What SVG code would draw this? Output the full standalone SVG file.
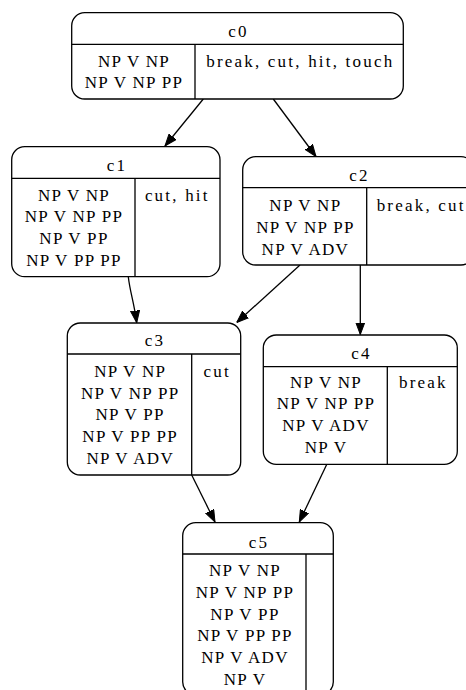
<svg xmlns="http://www.w3.org/2000/svg" width="466" height="690" viewBox="0 0 466 690">
<style>
.box{fill:#fff;stroke:#000;stroke-width:1.3}
.ln{stroke:#000;stroke-width:1.3;fill:none}
.t{font-family:"Liberation Serif","Times New Roman",serif;font-size:17px;fill:#000;text-anchor:middle}
.u{letter-spacing:1.3px}
.l{letter-spacing:2.2px}
.e{stroke:#000;stroke-width:1.3;fill:none;marker-end:url(#arr)}
</style>
<defs>
<marker id="arr" viewBox="0 0 12 10" refX="12" refY="5" markerWidth="12" markerHeight="10" orient="auto" markerUnits="userSpaceOnUse">
<path d="M0,0.5 L12,5 L0,9.5 z" fill="#000" stroke="#000" stroke-width="1"/>
</marker>
</defs>
<rect width="466" height="690" fill="#fff"/>
<g id="edges">
<path class="e" d="M203.3,99 L165,146"/>
<path class="e" d="M273.3,99 L316,156.5"/>
<path class="e" d="M128.3,276.7 C130,292 134,302 136.7,322.7"/>
<path class="e" d="M300,265 L236.7,322.5"/>
<path class="e" d="M360.3,265 L360.3,334.5"/>
<path class="e" d="M191.7,475 L215,522"/>
<path class="e" d="M326.7,464.5 L299.3,522"/>
</g>
<g id="c0">
<rect class="box" x="71.7" y="12.7" width="331.6" height="86.3" rx="13"/>
<path class="ln" d="M71.7,44.3 H403.3 M195,44.3 V99"/>
<text class="t l" x="238.6" y="37">c0</text>
<text class="t u" x="134" y="66.5">NP V NP</text>
<text class="t u" x="134" y="88.2">NP V NP PP</text>
<text class="t l" x="300.3" y="66.5">break, cut, hit, touch</text>
</g>
<g id="c1">
<rect class="box" x="11.7" y="146.7" width="208.3" height="130" rx="13"/>
<path class="ln" d="M11.7,178.3 H220 M135,178.3 V276.7"/>
<text class="t l" x="116.9" y="170.5">c1</text>
<text class="t u" x="74" y="200.6">NP V NP</text>
<text class="t u" x="74" y="222.3">NP V NP PP</text>
<text class="t u" x="74" y="244">NP V PP</text>
<text class="t u" x="74" y="265.7">NP V PP PP</text>
<text class="t l" x="177.3" y="200.6">cut, hit</text>
</g>
<g id="c2">
<rect class="box" x="242.7" y="156.7" width="231.3" height="108.3" rx="13"/>
<path class="ln" d="M242.7,187.7 H474 M366.7,187.7 V265"/>
<text class="t l" x="359.4" y="180.5">c2</text>
<text class="t u" x="305.4" y="211.3">NP V NP</text>
<text class="t u" x="305.4" y="233">NP V NP PP</text>
<text class="t u" x="305.4" y="254.7">NP V ADV</text>
<text class="t l" x="421.2" y="211.3">break, cut</text>
</g>
<g id="c3">
<rect class="box" x="67.3" y="323" width="173.4" height="152" rx="13"/>
<path class="ln" d="M67.3,354 H240.7 M191.7,354 V475"/>
<text class="t l" x="155.1" y="346">c3</text>
<text class="t u" x="130.2" y="376.9">NP V NP</text>
<text class="t u" x="130.2" y="398.6">NP V NP PP</text>
<text class="t u" x="130.2" y="420.3">NP V PP</text>
<text class="t u" x="130.2" y="442">NP V PP PP</text>
<text class="t u" x="130.2" y="463.7">NP V ADV</text>
<text class="t l" x="217.3" y="376.9">cut</text>
</g>
<g id="c4">
<rect class="box" x="263.3" y="335" width="194" height="129.3" rx="13"/>
<path class="ln" d="M263.3,366.7 H457.3 M387.3,366.7 V464.3"/>
<text class="t l" x="361.4" y="358.5">c4</text>
<text class="t u" x="326" y="387.5">NP V NP</text>
<text class="t u" x="326" y="409.2">NP V NP PP</text>
<text class="t u" x="326" y="430.9">NP V ADV</text>
<text class="t u" x="326" y="452.6">NP V</text>
<text class="t l" x="423.4" y="387.5">break</text>
</g>
<g id="c5">
<rect class="box" x="182.7" y="522.7" width="150.6" height="172.3" rx="13"/>
<path class="ln" d="M182.7,554 H333.3 M306,554 V695"/>
<text class="t l" x="259.1" y="548.3">c5</text>
<text class="t u" x="245" y="576.3">NP V NP</text>
<text class="t u" x="245" y="598">NP V NP PP</text>
<text class="t u" x="245" y="619.7">NP V PP</text>
<text class="t u" x="245" y="641.4">NP V PP PP</text>
<text class="t u" x="245" y="663.1">NP V ADV</text>
<text class="t u" x="245" y="684.8">NP V</text>
</g>
</svg>
